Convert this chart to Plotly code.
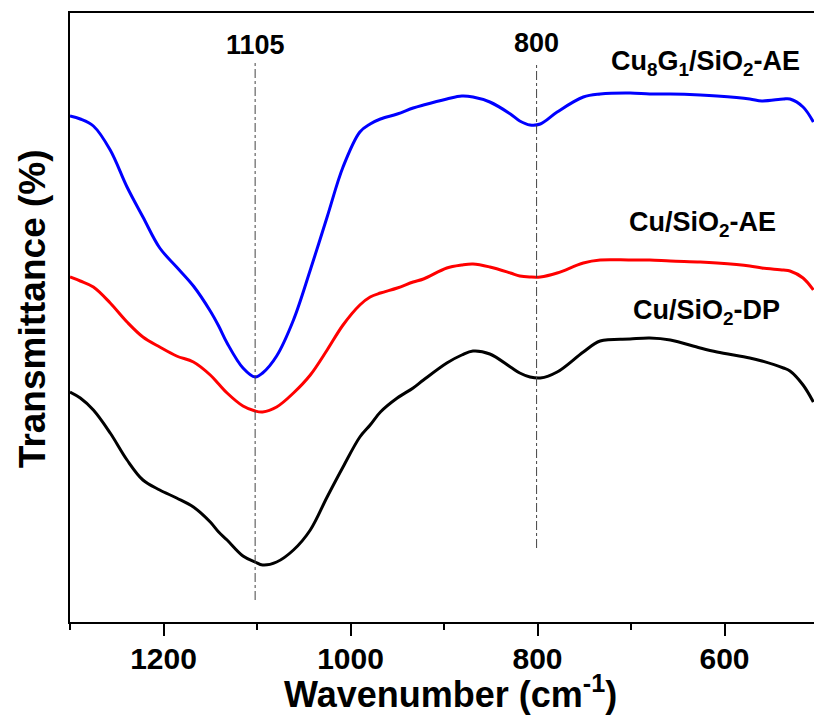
import plotly.graph_objects as go

# Wavenumber grid (cm^-1)
wavenumber = [1300, 1289, 1275, 1257, 1239, 1222, 1204, 1186, 1168, 1150, 1141, 1132, 1115,
              1102, 1094, 1079, 1061, 1043, 1025, 1008, 990, 979, 968, 950, 933, 922,
              897, 881, 869, 851, 829, 819, 808, 797, 779, 751, 733, 701, 680, 658,
              626, 608, 573, 560, 537, 530, 516, 505]

# Transmittance (arbitrary units, offset curves)
cu8g1_ae = [506, 503, 496, 472, 435, 405, 374, 355, 336, 311, 296, 279, 254,
            245, 249, 266, 302, 352, 405, 455, 490, 498, 503, 508, 514, 517,
            523, 526, 525, 520, 508, 501, 497, 498, 510, 525, 528, 529, 528, 528,
            527, 526, 523, 521, 523, 523, 515, 500]
cu_ae = [345, 341, 335, 319, 300, 285, 275, 266, 260, 247, 238, 229, 216,
         211, 210, 215, 229, 247, 272, 297, 317, 325, 329, 334, 340, 343,
         354, 357, 358, 355, 349, 346, 345, 345, 349, 359, 362, 362, 362, 361,
         360, 359, 356, 354, 352, 351, 344, 332]
cu_dp = [230, 224, 212, 189, 162, 142, 132, 124, 115, 100, 90, 82, 66,
         60, 57, 60, 72, 92, 125, 155, 185, 197, 210, 224, 234, 242,
         259, 267, 271, 268, 255, 249, 245, 244, 250, 270, 281, 283, 284, 282,
         274, 270, 264, 261, 254, 251, 237, 220]

series_names = ["Cu<sub>8</sub>G<sub>1</sub>/SiO<sub>2</sub>-AE",
                "Cu/SiO<sub>2</sub>-AE",
                "Cu/SiO<sub>2</sub>-DP"]
series_colors = ["#0000ff", "#ff0000", "#000000"]

# Reference lines
ref_positions = [1102, 801]
ref_labels = ["1105", "800"]
ref_y0 = [22, 74]
ref_y1 = [562, 559]

fig = go.Figure()
for ys, col in zip([cu8g1_ae, cu_ae, cu_dp], series_colors):
    fig.add_trace(go.Scatter(x=wavenumber, y=ys, mode="lines",
                             line=dict(color=col, width=3, shape="spline", smoothing=1.0),
                             showlegend=False, hoverinfo="skip"))

for xp, y0, y1 in zip(ref_positions, ref_y0, ref_y1):
    fig.add_shape(type="line", x0=xp, x1=xp, y0=y0, y1=y1, xref="x", yref="y",
                  line=dict(color="#444444", width=1, dash="dashdot"))

font_b = "Liberation Sans, Arial, sans-serif"
for xp, lab, yy in zip(ref_positions, ref_labels, [577, 579]):
    fig.add_annotation(x=xp, y=yy, text="<b>%s</b>" % lab, showarrow=False,
                       font=dict(family=font_b, size=27, color="black"),
                       xanchor="center", yanchor="middle")

label_x = [620, 624, 619]
label_y = [559, 398, 310]
for nm, lx, ly in zip(series_names, label_x, label_y):
    fig.add_annotation(x=lx, y=ly, text="<b>%s</b>" % nm, showarrow=False,
                       font=dict(family=font_b, size=27, color="black"),
                       xanchor="center", yanchor="middle")

# Axis titles
fig.add_annotation(x=0.511, y=-0.115, xref="paper", yref="paper",
                   text="<b>Wavenumber (cm<sup>-1</sup>)</b>", showarrow=False,
                   font=dict(family=font_b, size=36, color="black"),
                   xanchor="center", yanchor="middle")
fig.add_annotation(x=-0.05, y=0.515, xref="paper", yref="paper",
                   text="<b>Transmittance (%)</b>", showarrow=False, textangle=-90,
                   font=dict(family=font_b, size=37, color="black"),
                   xanchor="center", yanchor="middle")

fig.update_layout(
    width=814, height=715,
    margin=dict(l=70, r=0, t=13, b=93),
    paper_bgcolor="white", plot_bgcolor="white",
    xaxis=dict(range=[1300, 504.3], showgrid=False, zeroline=False, automargin=False,
               showline=True, linecolor="black", linewidth=2, mirror=True,
               ticks="outside", ticklen=12, tickwidth=2, tickcolor="black",
               tick0=0, dtick=200, ticklabelstandoff=-3,
               minor=dict(ticks="outside", ticklen=6, tickwidth=2, tickcolor="black", dtick=100),
               tickfont=dict(family=font_b, size=30, color="black", weight="bold")),
    yaxis=dict(range=[0, 609], showgrid=False, zeroline=False, automargin=False,
               showline=True, linecolor="black", linewidth=2, mirror=False,
               showticklabels=False, ticks=""),
)

fig.write_html("out.html", config={"displayModeBar": False},
               post_script="document.body.style.margin='0';document.body.style.overflow='hidden';")
